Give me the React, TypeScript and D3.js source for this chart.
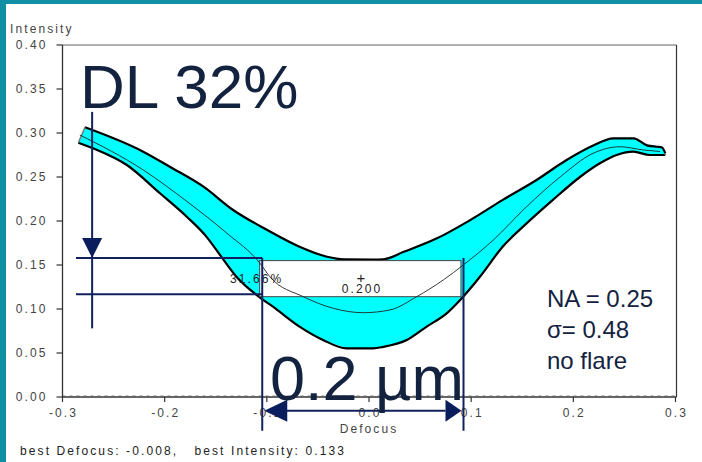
import React from "react";
import * as d3 from "d3";

const xTickValues = [-0.3, -0.2, -0.1, 0, 0.1, 0.2, 0.3];
const xTickLabels = ["-0.3", "-0.2", "-0.1", "0.0", "0.1", "0.2", "0.3"];
const yTickValues = [0, 0.05, 0.1, 0.15, 0.2, 0.25, 0.3, 0.35, 0.4];
const yTickLabels = ["0.00", "0.05", "0.10", "0.15", "0.20", "0.25", "0.30", "0.35", "0.40"];

// upper edge of the process-window band [defocus, intensity]
const upperEdge: [number, number][] = [
  [-0.278, 0.3065], [-0.221, 0.2788], [-0.195, 0.2617], [-0.162, 0.239], [-0.133, 0.2125],
  [-0.1, 0.19], [-0.068, 0.1708], [-0.041, 0.1594], [-0.025, 0.1565], [0.004, 0.1562],
  [0.014, 0.1565], [0.034, 0.165], [0.066, 0.18], [0.099, 0.201], [0.131, 0.224],
  [0.164, 0.2466], [0.193, 0.269], [0.22, 0.286], [0.239, 0.294], [0.259, 0.294],
  [0.272, 0.286], [0.2816, 0.2844], [0.2865, 0.2838], [0.29, 0.277],
];
// lower edge of the band
const lowerEdge: [number, number][] = [
  [-0.2845, 0.289], [-0.27, 0.2826], [-0.237, 0.2636], [-0.2046, 0.2315], [-0.1784, 0.2049],
  [-0.159, 0.182], [-0.145, 0.16], [-0.13, 0.137], [-0.1067, 0.113], [-0.094, 0.1026],
  [-0.068, 0.08], [-0.045, 0.0648], [-0.022, 0.0553], [0.004, 0.0553], [0.014, 0.057],
  [0.037, 0.0648], [0.0565, 0.08], [0.076, 0.095], [0.089, 0.11], [0.1086, 0.1367],
  [0.131, 0.171], [0.154, 0.197], [0.18, 0.224], [0.2065, 0.25], [0.226, 0.2656],
  [0.2424, 0.275], [0.2587, 0.2788], [0.275, 0.275], [0.29, 0.275],
];
// nominal (centre) curve
const centerCurve: [number, number][] = [
  [-0.283, 0.2977], [-0.221, 0.258], [-0.178, 0.222], [-0.139, 0.186], [-0.1067, 0.152],
  [-0.097, 0.1367], [-0.0643, 0.114], [-0.035, 0.1008], [-0.0057, 0.0958], [0.0205, 0.0989],
  [0.0467, 0.114], [0.0727, 0.133], [0.0923, 0.15], [0.1217, 0.1784], [0.154, 0.216],
  [0.187, 0.25], [0.2195, 0.277], [0.2457, 0.2844], [0.2685, 0.2807], [0.2848, 0.279],
];

// process-window rectangle and its annotation
const windowX = [-0.107, 0.09];
const windowY = [0.114, 0.155];
const windowLabel = "0.200";
const latitudeLabel = "31.66%";
const dlLevels = [0.158, 0.1167];
const dlArrowX = -0.271;
const dlArrowRange = [0.324, 0.078];
const dlLineStart = -0.2868;
const dofLines = [-0.1045, 0.0925];
const dofArrowY = -0.0156;
const dofLineBottom = -0.027;

const W = 702;
const H = 462;
const left = 62.5, right = 675.5, top = 45, bottom = 397;

const NAVY = "#10215e";
const TEXTNAVY = "#13223f";
const AX = "#444";
const smallFont = { fontFamily: "Liberation Sans, Arial, sans-serif", fontSize: 12, letterSpacing: 2.1, whiteSpace: "pre" } as const;

export default function App() {
  const x = d3.scaleLinear().domain([-0.3, 0.3]).range([left, right]);
  const y = d3.scaleLinear().domain([0, 0.4]).range([bottom, top]);
  const line = d3.line<[number, number]>().x((d) => x(d[0])).y((d) => y(d[1])).curve(d3.curveMonotoneX);
  const bandPts = [...upperEdge, ...lowerEdge.slice().reverse()];
  const bandPath = d3.line<[number, number]>().x((d) => x(d[0])).y((d) => y(d[1])).curve(d3.curveLinearClosed)(bandPts) as string;

  const u0 = upperEdge[0], l0 = lowerEdge[0];
  const u1 = upperEdge[upperEdge.length - 1], l1 = lowerEdge[lowerEdge.length - 1];

  const ay0 = y(dlArrowRange[0]), ay1 = y(dlArrowRange[1]);
  const tipY = y(dlLevels[0]);
  const ax = x(dlArrowX);
  const dofY = y(dofArrowY);
  const dL = x(dofLines[0]) + 2, dR = x(dofLines[1]) - 2;

  return (
    <svg width={W} height={H} style={{ position: "absolute", left: 0, top: 0, background: "#fff" }}>
      <rect x={0} y={0} width={W} height={H} fill="#fff" />
      <rect x={0} y={0} width={6} height={H} fill="#108ea4" />
      <rect x={0} y={0} width={W} height={4} fill="#108ea4" />

      {/* frame */}
      <line x1={left} x2={right + 1} y1={top} y2={top} stroke="#666" strokeWidth={1.2} />
      <line x1={right + 1} x2={right + 1} y1={top} y2={bottom} stroke="#333" strokeWidth={1.2} />
      <line x1={left} x2={right + 1} y1={y(0) - 1.5} y2={y(0) - 1.5} stroke="#bbb" strokeWidth={1} strokeDasharray="3,4" />
      <line x1={left} x2={left} y1={top} y2={bottom} stroke="#333" strokeWidth={1.3} />
      <line x1={left} x2={right + 1} y1={bottom} y2={bottom} stroke="#333" strokeWidth={1.3} />

      {yTickValues.map((v, i) => (
        <g key={"y" + i}>
          <line x1={left - 6} x2={left} y1={y(v)} y2={y(v)} stroke="#333" strokeWidth={1.2} />
          <text x={47.5} y={y(v) + 4} textAnchor="end" fill={AX} style={smallFont}>{yTickLabels[i]}</text>
        </g>
      ))}
      {xTickValues.map((v, i) => (
        <g key={"x" + i}>
          <line x1={x(v)} x2={x(v)} y1={bottom} y2={bottom + 5} stroke="#333" strokeWidth={1.2} />
          <text x={x(v) + 1} y={417} textAnchor="middle" fill={AX} style={smallFont}>{xTickLabels[i]}</text>
        </g>
      ))}
      <text x={10} y={32.5} fill={AX} style={smallFont}>Intensity</text>
      <text x={369} y={433} textAnchor="middle" fill={AX} style={smallFont}>Defocus</text>
      <text x={20} y={454.5} fill="#222" style={smallFont}>{"best Defocus: -0.008,   best Intensity: 0.133"}</text>

      {/* band */}
      <path d={bandPath} fill="#00ffff" stroke="none" />
      <path d={line(upperEdge) as string} fill="none" stroke="#000" strokeWidth={2.2} />
      <path d={line(lowerEdge) as string} fill="none" stroke="#000" strokeWidth={2.2} />
      <line x1={x(u0[0])} y1={y(u0[1])} x2={x(l0[0])} y2={y(l0[1])} stroke="#777" strokeWidth={1.5} />
      <line x1={x(u1[0])} y1={y(u1[1])} x2={x(l1[0])} y2={y(l1[1])} stroke="#777" strokeWidth={1.5} />

      {/* window box */}
      <rect x={x(windowX[0])} y={y(windowY[1])} width={x(windowX[1]) - x(windowX[0])} height={y(windowY[0]) - y(windowY[1])}
        fill="#fff" stroke="#444" strokeWidth={1} />
      <path d={line(centerCurve) as string} fill="none" stroke="#222" strokeWidth={0.9} />
      <text x={361} y={283} textAnchor="middle" fill="#222" style={{ fontFamily: "Liberation Sans, Arial, sans-serif", fontSize: 15 }}>+</text>
      <text x={362} y={293} textAnchor="middle" fill="#222" style={smallFont}>{windowLabel}</text>
      <text x={230} y={283} fill="#222" style={smallFont}>{latitudeLabel}</text>

      {/* DL annotation */}
      {dlLevels.map((v, i) => (
        <line key={"dl" + i} x1={x(dlLineStart)} x2={x(dofLines[0])} y1={y(v)} y2={y(v)} stroke={NAVY} strokeWidth={2} />
      ))}
      <line x1={ax} x2={ax} y1={ay0} y2={ay1} stroke={NAVY} strokeWidth={2} />
      <path d={`M${ax - 10},${tipY - 20} L${ax + 10},${tipY - 20} L${ax},${tipY} Z`} fill="#0a1d5c" />

      {/* DOF annotation */}
      {dofLines.map((v, i) => (
        <line key={"dof" + i} x1={x(v)} x2={x(v)} y1={y(dlLevels[0])} y2={y(dofLineBottom) + 10} stroke={NAVY} strokeWidth={2} />
      ))}
      <line x1={dL + 18} x2={dR - 16} y1={dofY} y2={dofY} stroke={NAVY} strokeWidth={2} />
      <path d={`M${dL},${dofY} L${dL + 23},${dofY - 11} L${dL + 23},${dofY + 11} Z`} fill="#0a1d5c" />
      <path d={`M${dR},${dofY} L${dR - 16},${dofY - 11} L${dR - 16},${dofY + 11} Z`} fill="#0a1d5c" />

      <text x={80} y={108} fill={TEXTNAVY} style={{ fontFamily: "Liberation Sans, Arial, sans-serif", fontSize: 62 }}>DL 32%</text>
      <text x={270} y={400} fill={TEXTNAVY} style={{ fontFamily: "Liberation Sans, Arial, sans-serif", fontSize: 63 }}>0.2 µm</text>
      <g fill={TEXTNAVY} style={{ fontFamily: "Liberation Sans, Arial, sans-serif", fontSize: 24 }}>
        <text x={547} y={307}>NA = 0.25</text>
        <text x={547} y={338}>σ= 0.48</text>
        <text x={547} y={369}>no flare</text>
      </g>
    </svg>
  );
}
